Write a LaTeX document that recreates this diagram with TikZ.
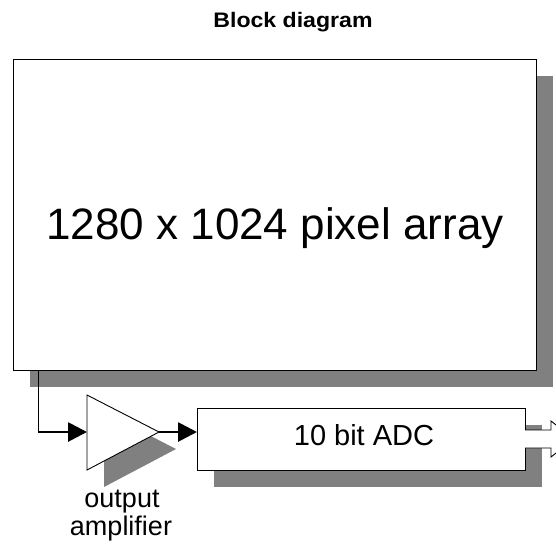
\documentclass[tikz,border=0pt]{standalone}
\usepackage{fontspec}
\setmainfont{Liberation Sans}
\usetikzlibrary{arrows.meta}
\definecolor{shadowgray}{HTML}{808080}
\tikzset{
  shadow/.style={fill=shadowgray, draw=none},
  block/.style={fill=white, draw=black, line width=0.9pt},
  thinwire/.style={draw=black, line width=0.9pt},
  thickwire/.style={draw=black, line width=2.8pt, -{Triangle[length=19pt,width=19pt]}},
  lbl/.style={inner sep=0pt, anchor=base}
}
\begin{document}
\begin{tikzpicture}[x=1pt,y=-1pt]
\useasboundingbox (0,0) rectangle (556,546);
\clip (0,0) rectangle (556,546);
% title
\node[lbl] (title) at (293,27) {\scalebox{1.1}[1]{\fontsize{21}{24}\selectfont\bfseries Block diagram}};
% pixel array
\fill[shadow] (30,76) rectangle (553,387);
\draw[block] (13,59) rectangle (536,370);
\node[lbl] (arraytxt) at (275,239) {\fontsize{44}{50}\selectfont 1280 x 1024 pixel array};
% amplifier
\fill[shadow] (104,412) -- (104,487) -- (176,449) -- cycle;
\draw[block] (87,395) -- (87,470) -- (159,432) -- cycle;
\coordinate (ampin) at (87,432);
\coordinate (ampout) at (159,432);
\coordinate (tap) at (38,370);
\coordinate (bend) at (38,432);
% ADC
\fill[shadow] (214,425) rectangle (542,487);
\draw[block] (197,408) rectangle (525,470);
\coordinate (adcin) at (197,432);
\node[lbl] (adctxt) at (364,445) {\fontsize{29}{32}\selectfont 10 bit ADC};
% output bus arrow
\draw[block] (525,430) -- (551,430) -- (551,421) -- (574,439) -- (551,457) -- (551,448) -- (525,448);
% connectors
\draw[thinwire] (tap) -- (bend);
\draw[thickwire] (bend) -- (ampin);
\draw[thickwire] (ampout) -- (adcin);
% labels
\node[lbl] (out1) at (122,507) {\fontsize{27}{29}\selectfont output};
\node[lbl] (out2) at (121,535) {\fontsize{27}{29}\selectfont amplifier};
\end{tikzpicture}
\end{document}
